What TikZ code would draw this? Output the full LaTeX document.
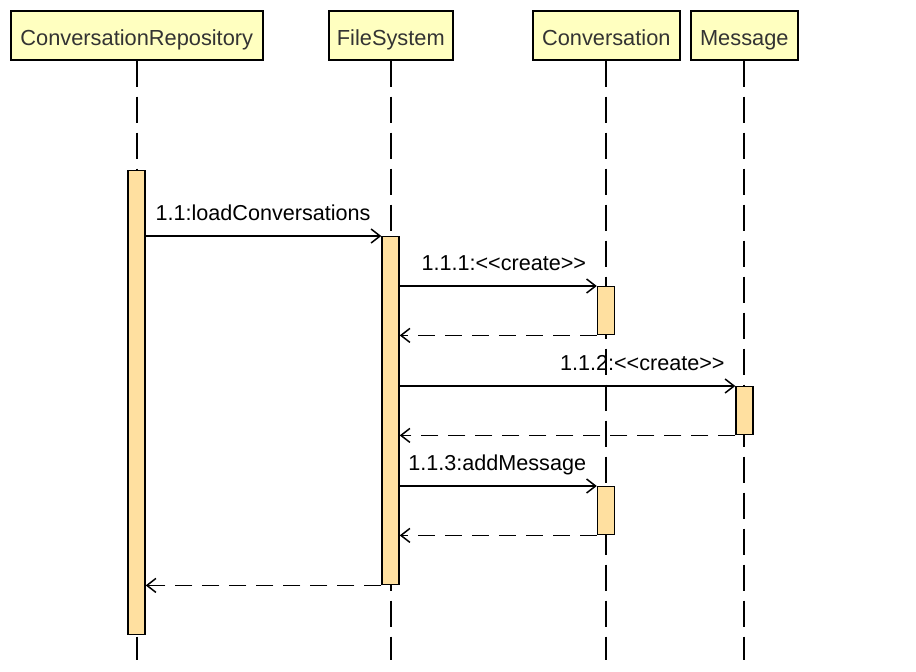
\documentclass[tikz,border=0pt]{standalone}
\usepackage{fontspec}
\setmainfont{Liberation Sans}
\usetikzlibrary{arrows.meta,positioning}

\definecolor{headfill}{HTML}{FFFFC0}
\definecolor{headtext}{HTML}{333333}
\definecolor{barfill}{HTML}{FFE0A0}

\tikzset{
	head/.style={draw=black, line width=1.6pt, fill=headfill, text=headtext,
		minimum height=49pt, inner sep=0pt, anchor=north west,
		text height=20pt, text depth=0pt,
		font=\fontsize{21.8}{24}\selectfont},
	lifeline/.style={line width=1.7pt, dash pattern=on 26pt off 10pt},
	actbar/.style={draw=black, line width=1.4pt, fill=barfill,
		minimum width=17pt, inner sep=0pt, anchor=north},
	call/.style={line width=1.5pt, -{Straight Barb[length=9pt,width=14pt]}},
	reply/.style={call, dash pattern=on 17pt off 10pt},
	lbl/.style={anchor=base east, inner sep=0pt, xshift=-10pt, yshift=16pt,
		font=\fontsize{21.6}{24}\selectfont}
}

\begin{document}
\begin{tikzpicture}[x=1pt,y=-1pt]
\useasboundingbox (0,0) rectangle (916,672);

% heads
\node[head, minimum width=252] (repo) at (10,10) {ConversationRepository};
\node[head, minimum width=124] (fs) at (328,10) {FileSystem};
\node[head, minimum width=147] (conv) at (532,10) {Conversation};
\node[head, minimum width=107] (msg) at (690,10) {Message};

% lifelines
\coordinate (end) at (0,660);
\foreach \p in {repo,fs,conv,msg}
	\draw[lifeline] (\p.south) -- (\p.south |- end);

% activations
\node[actbar, minimum height=464] (repoact) at (136.5,170) {};
\node[actbar, minimum height=348] (fsact) at (390.5,236) {};
\node[actbar, minimum height=48] (convact1) at (606,286) {};
\node[actbar, minimum height=48] (msgact) at (744.5,386) {};
\node[actbar, minimum height=48] (convact2) at (606,486) {};

% messages
\draw[call] (repoact.east |- fsact.north) -- (fsact.north west)
	node[lbl] {1.1:loadConversations};
\draw[call] (fsact.east |- convact1.north) -- (convact1.north west)
	node[lbl] {1.1.1:<\kern0pt<create>\kern0pt>};
\draw[reply] (convact1.south west) -- (fsact.east |- convact1.south);
\draw[call] (fsact.east |- msgact.north) -- (msgact.north west)
	node[lbl] {1.1.2:<\kern0pt<create>\kern0pt>};
\draw[reply] (msgact.south west) -- (fsact.east |- msgact.south);
\draw[call] (fsact.east |- convact2.north) -- (convact2.north west)
	node[lbl] {1.1.3:addMessage};
\draw[reply] (convact2.south west) -- (fsact.east |- convact2.south);
\draw[reply] (fsact.south west) -- (repoact.east |- fsact.south);

\end{tikzpicture}
\end{document}
